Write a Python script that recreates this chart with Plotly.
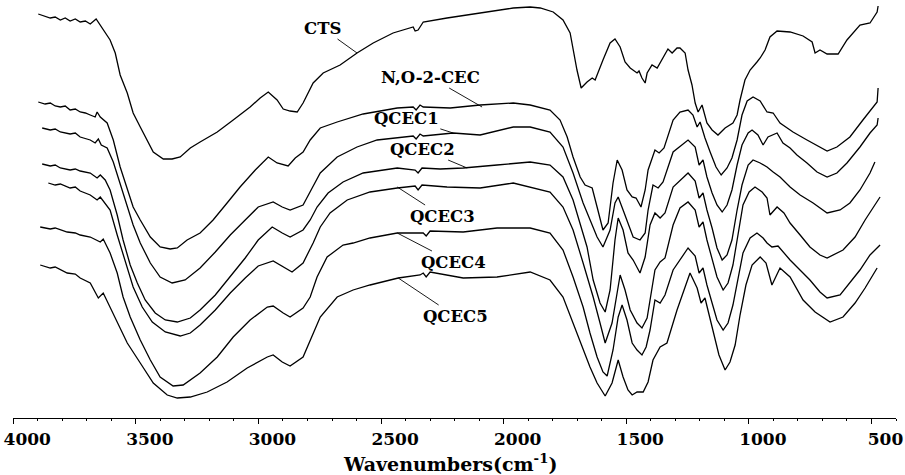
import plotly.graph_objects as go

# ---- data: wavenumber (cm-1) and transmittance (arbitrary units, offset spectra) ----
cts_wn = [3898,3870,3849,3829,3808,3788,3768,3747,3727,3706,3686,3662,3645,3625,3605,3584,3564,3535,3511,3482,
          3454,3429,3388,3352,3319,3278,3238,3168,3103,3034,2993,2960,2924,2899,2871,2842,2818,2777,2736,2667,
          2598,2532,2451,2381,2369,2361,2349,2341,2328,2231,2096,1961,1892,1851,1798,1758,1729,1717,1701,1684,
          1660,1639,1627,1595,1566,1546,1525,1505,1484,1456,1448,1436,1423,1415,1395,1374,1362,1342,1330,1313,
          1293,1281,1260,1248,1232,1219,1207,1191,1171,1150,1126,1097,1077,1065,1048,1036,1016,995,967,954,
          934,914,885,832,779,742,730,710,681,636,600,547,506,494,477,473]
cts_t = [404,402,400,401,398,400,397,399,396,397,394,399,393,386,378,365,343,325,305,291,
         278,266,259,259,261,270,276,286,298,311,320,326,318,309,307,306,315,335,345,353,
         365,375,385,390,391,387,388,391,396,400,405,410,411,410,406,398,385,368,348,330,
         336,340,338,358,375,379,371,356,350,345,347,340,335,345,353,350,355,363,369,365,
         370,370,365,348,333,315,306,313,295,288,283,290,293,295,303,318,338,348,356,360,
         368,381,387,386,382,376,365,368,364,364,378,393,395,400,406,412]

noc_wn = [3898,3870,3849,3829,3808,3788,3768,3747,3727,3706,3686,3666,3658,3645,3617,3592,3564,3535,3511,3482,
          3441,3401,3360,3331,3291,3238,3185,3128,3075,3013,2960,2924,2879,2850,2818,2789,2748,2679,2573,2434,
          2369,2357,2341,2328,2218,2096,1961,1892,1811,1770,1741,1717,1688,1668,1639,1619,1595,1574,1554,1537,
          1517,1497,1476,1460,1440,1423,1411,1383,1366,1346,1309,1281,1248,1228,1211,1199,1179,1158,1134,1113,
          1089,1069,1048,1028,1007,983,954,926,901,873,820,763,710,681,641,588,535,494,477,473]
noc_t = [316,314,315,312,311,312,308,309,306,305,303,301,306,301,295,278,251,228,211,198,
         181,171,169,170,178,185,198,215,231,248,261,255,252,260,266,278,290,296,304,310,
         311,308,313,311,310,313,315,313,308,298,281,261,241,233,230,211,188,195,235,258,
         248,228,221,220,211,228,248,268,265,270,298,306,308,303,291,296,280,266,251,243,
         250,260,278,303,317,321,317,306,305,295,286,278,271,267,271,281,298,311,316,330]

q1_wn = [3882,3849,3829,3808,3768,3747,3727,3686,3666,3653,3641,3617,3592,3564,3535,3511,3482,3441,3401,3352,
         3299,3238,3176,3115,3054,3001,2940,2903,2871,2818,2781,2748,2679,2598,2516,2422,2369,2357,2341,2328,
         2206,2096,1961,1892,1811,1758,1717,1676,1648,1619,1595,1566,1546,1533,1513,1484,1472,1444,1423,1411,
         1391,1370,1350,1309,1248,1219,1203,1187,1171,1150,1130,1109,1089,1069,1048,1028,1003,987,963,942,
         922,885,861,832,804,763,722,681,641,600,547,506,477,473]
q1_t = [290,288,289,286,284,285,281,278,275,279,273,270,256,235,213,193,175,155,141,135,
        138,150,166,183,198,211,216,211,208,213,230,245,261,271,278,281,282,279,284,282,
        285,283,291,291,286,271,245,215,198,181,171,188,215,221,208,188,181,178,185,208,
        233,230,236,266,278,271,253,258,241,225,213,206,213,228,253,273,285,288,283,273,
        281,285,275,270,263,255,246,241,245,255,271,285,293,300]

q2_wn = [3882,3849,3829,3808,3768,3747,3727,3686,3658,3645,3625,3605,3576,3552,3523,3494,3462,3421,3380,3331,
         3278,3238,3176,3115,3054,3001,2944,2903,2871,2818,2789,2761,2716,2655,2573,2434,2361,2349,2333,2259,
         2165,2027,1892,1811,1758,1717,1688,1660,1635,1607,1586,1566,1546,1533,1513,1493,1472,1444,1423,1403,
         1383,1362,1342,1309,1248,1219,1203,1187,1171,1150,1130,1109,1089,1069,1048,1028,1003,983,954,926,
         901,873,832,791,738,681,628,588,547,506,486]
q2_t = [254,252,253,250,248,249,247,245,240,243,238,228,203,178,153,135,118,105,98,96,
        100,108,123,141,160,178,191,185,181,188,198,211,225,236,245,250,248,245,250,249,
        250,253,256,253,241,218,195,171,138,115,106,128,178,200,188,165,158,145,161,193,
        205,200,205,231,245,237,220,225,208,190,170,158,163,178,208,233,253,258,255,251,
        246,241,231,223,215,205,208,215,228,245,256]

q3_wn = [3857,3829,3808,3768,3747,3727,3686,3658,3645,3625,3605,3576,3543,3511,3474,3433,3380,3319,3278,3238,
         3176,3115,3054,3001,2940,2899,2863,2818,2777,2748,2708,2638,2545,2434,2361,2349,2333,2231,2096,1961,
         1892,1811,1758,1717,1676,1635,1607,1586,1558,1537,1525,1505,1484,1456,1436,1415,1399,1383,1362,1342,
         1309,1281,1248,1219,1203,1187,1171,1150,1130,1105,1085,1065,1044,1024,999,975,946,926,914,885,
         857,832,791,751,710,681,616,567,526,486,465]
q3_t = [235,233,234,230,231,227,223,218,221,215,208,183,156,131,111,96,86,82,85,93,
        108,125,140,152,157,151,146,155,175,191,205,218,226,230,232,228,233,231,230,235,
        231,226,211,188,155,121,95,75,95,128,143,128,108,95,90,100,123,148,156,160,
        193,210,216,208,191,196,178,160,141,128,135,153,183,213,226,231,226,220,203,211,
        205,195,183,171,163,160,168,181,198,213,221]

q4_wn = [3890,3849,3829,3780,3747,3727,3686,3645,3633,3605,3576,3552,3523,3482,3441,3401,3348,3307,3238,3168,
         3103,3034,2964,2940,2899,2871,2818,2789,2761,2720,2655,2614,2545,2434,2328,2316,2300,2165,2027,1892,
         1811,1758,1717,1676,1648,1619,1595,1578,1554,1533,1517,1497,1476,1456,1436,1419,1403,1383,1362,1342,
         1309,1248,1219,1203,1187,1171,1150,1130,1105,1085,1065,1044,1024,995,967,942,926,906,881,832,
         791,751,710,681,628,588,547,506,465]
q4_t = [191,189,190,186,185,183,181,176,179,165,145,121,101,78,58,41,32,33,45,61,
        81,98,111,112,105,101,110,121,141,161,173,175,180,185,185,182,187,186,190,190,
        185,168,141,111,85,61,46,42,68,101,113,98,75,68,63,71,88,118,115,123,
        148,170,162,145,150,133,115,98,88,95,113,140,165,180,185,180,175,171,172,158,
        148,138,126,120,123,135,148,163,173]

q5_wn = [3890,3849,3829,3780,3747,3727,3686,3653,3633,3605,3576,3535,3482,3429,3372,3331,3278,3209,3128,3046,
         2964,2940,2903,2871,2818,2777,2748,2679,2614,2545,2430,2341,2328,2316,2300,2165,2027,1892,1811,1758,
         1717,1676,1648,1619,1586,1558,1533,1513,1493,1476,1456,1431,1411,1391,1362,1334,1293,1240,1211,1195,
         1179,1162,1142,1122,1097,1077,1056,1036,1012,987,954,930,906,873,832,779,730,669,616,567,
         526,477]
q5_t = [153,150,151,145,144,140,135,120,125,111,95,75,55,35,23,20,21,26,36,50,
        61,63,56,52,61,85,101,121,128,133,140,143,145,141,146,140,141,146,138,121,
        95,68,51,35,22,35,58,41,28,23,26,26,36,58,71,75,108,145,130,115,
        120,103,83,63,48,56,73,103,133,153,161,155,133,150,141,118,106,96,101,115,
        130,150]

series_names = ["CTS", "N,O-2-CEC", "QCEC1", "QCEC2", "QCEC3", "QCEC4", "QCEC5"]
series_wn = [cts_wn, noc_wn, q1_wn, q2_wn, q3_wn, q4_wn, q5_wn]
series_t = [cts_t, noc_t, q1_t, q2_t, q3_t, q4_t, q5_t]

# label text position (wn, t) and leader-line target (wn, t)
label_pos = [(2740, 390), (2300, 341), (2397, 300), (2333, 269), (2251, 202), (2206, 156), (2198, 102)]
label_tgt = [(2598, 365), (2088, 311), (2206, 285), (2149, 250), (2434, 231), (2434, 185), (2430, 140)]

x_ticks = [4000, 3500, 3000, 2500, 2000, 1500, 1000, 500]

fig = go.Figure()
for name, wn, t in zip(series_names, series_wn, series_t):
    fig.add_trace(go.Scatter(x=wn, y=t, mode="lines", name=name,
                             line=dict(color="black", width=1.3), showlegend=False,
                             hoverinfo="skip"))

for name, (lx, ly), (tx, ty) in zip(series_names, label_pos, label_tgt):
    fig.add_annotation(x=tx, y=ty, ax=lx, ay=ly, axref="x", ayref="y", xref="x", yref="y",
                       text="<b>%s</b>" % name, showarrow=True, arrowhead=0, arrowwidth=0.9,
                       arrowcolor="black", standoff=0, startstandoff=0,
                       font=dict(family="DejaVu Serif", size=16.5, color="black"))

fig.add_annotation(x=0.495, y=-0.108, xref="paper", yref="paper", showarrow=False,
                   text="<b>Wavenumbers(cm<sup>-1</sup>)</b>", xanchor="center", yanchor="middle",
                   font=dict(family="DejaVu Serif", size=19, color="black"))

fig.update_layout(
    width=905, height=475,
    margin=dict(l=13, r=9, t=0, b=57, autoexpand=False),
    paper_bgcolor="white", plot_bgcolor="white",
    xaxis=dict(range=[4001, 400], showgrid=False, zeroline=False, showline=True, automargin=False,
               linecolor="black", linewidth=1, ticks="outside", ticklen=5, tickcolor="black",
               tickmode="array", tickvals=x_ticks, ticktext=[str(v) for v in x_ticks],
               ticklabelshift=-14, ticklabelstandoff=1, ticklabeloverflow="allow",
               minor=dict(ticks="outside", ticklen=2, dtick=100, tickcolor="black", tick0=0),
               tickfont=dict(family="DejaVu Serif", size=17, color="black", weight="bold")),
    yaxis=dict(range=[0, 418], visible=False, automargin=False),
)

fig.write_html("out.html", config={"displayModeBar": False},
               post_script="document.body.style.margin='0px';document.body.style.overflow='hidden';")
